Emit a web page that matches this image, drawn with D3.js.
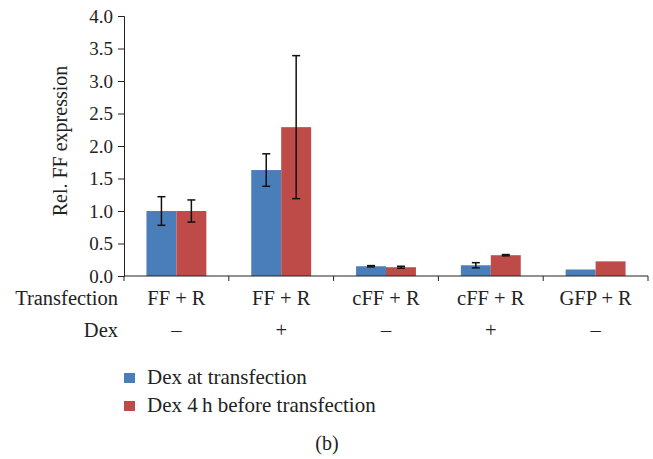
<!DOCTYPE html>
<html>
<head>
<meta charset="utf-8">
<script src="https://cdnjs.cloudflare.com/ajax/libs/d3/7.8.5/d3.min.js"></script>
<style>
  body { margin: 0; background: #fff; }
  text { font-family: "Liberation Serif", "DejaVu Serif", serif; fill: #222; }
</style>
</head>
<body>
<div id="chart"></div>
<script>
var transfection = ["FF + R", "FF + R", "cFF + R", "cFF + R", "GFP + R"]
var dex = ["\u2013", "+", "\u2013", "+", "\u2013"]
var seriesNames = ["Dex at transfection", "Dex 4\u2009h before transfection"]
var atTransfection = [1.0, 1.63, 0.15, 0.165, 0.10]
var atTransfectionErr = [0.22, 0.25, 0.01, 0.04, 0]
var before4h = [1.0, 2.29, 0.135, 0.32, 0.225]
var before4hErr = [0.17, 1.1, 0.015, 0.01, 0]
var yTicks = [0, 0.5, 1.0, 1.5, 2.0, 2.5, 3.0, 3.5, 4.0]
var colors = ["#4a7ebb", "#be4b48"]

var width = 653
var height = 459

var svg = d3.select("#chart")
            .append("svg")
            .attr("width", width)
            .attr("height", height)

var groups = d3.range(transfection.length)

var x0 = d3.scaleBand().domain(groups).range([124, 648])
var x1 = d3.scaleBand().domain([0, 1]).range([0, x0.bandwidth()]).paddingOuter(0.75)
var y = d3.scaleLinear().domain([0, 4]).range([276, 16])

// y axis
var yAxis = svg.append("g")
    .attr("transform", "translate(124,0)")
    .call(d3.axisLeft(y).tickValues(yTicks).tickFormat(d3.format(".1f")).tickSize(6).tickPadding(5))
yAxis.attr("font-family", null)
yAxis.select(".domain").attr("stroke", "#222")
yAxis.selectAll(".tick line").attr("stroke", "#222")
yAxis.selectAll("text")
    .style("font-family", "Liberation Serif")
    .style("font-size", "19px")
    .attr("fill", "#222")

svg.append("text")
    .attr("transform", "translate(67," + 141 + ") rotate(-90)")
    .attr("text-anchor", "middle")
    .style("font-size", "20px")
    .text("Rel. FF expression")

// bars
var rows = groups.map(function(i){
    return [
        {g: i, s: 0, v: atTransfection[i], e: atTransfectionErr[i]},
        {g: i, s: 1, v: before4h[i], e: before4hErr[i]}
    ]
})
var flat = [].concat.apply([], rows)

svg.selectAll("rect.bar")
    .data(flat)
    .enter()
    .append("rect")
    .attr("class", "bar")
    .attr("x", function(d){ return x0(d.g) + x1(d.s) })
    .attr("y", function(d){ return y(d.v) })
    .attr("width", x1.bandwidth())
    .attr("height", function(d){ return y(0) - y(d.v) })
    .attr("fill", function(d){ return colors[d.s] })

// error bars
var errs = svg.selectAll("g.err")
    .data(flat.filter(function(d){ return d.e > 0 }))
    .enter()
    .append("g")
    .attr("class", "err")
    .attr("stroke", "#111")
    .attr("stroke-width", 1.5)
errs.append("line")
    .attr("x1", function(d){ return x0(d.g) + x1(d.s) + x1.bandwidth() / 2 })
    .attr("x2", function(d){ return x0(d.g) + x1(d.s) + x1.bandwidth() / 2 })
    .attr("y1", function(d){ return y(d.v + d.e) })
    .attr("y2", function(d){ return y(d.v - d.e) })
errs.selectAll("line.cap")
    .data(function(d){ return [d.v + d.e, d.v - d.e].map(function(v){ return {d: d, v: v} }) })
    .enter()
    .append("line")
    .attr("class", "cap")
    .attr("x1", function(c){ return x0(c.d.g) + x1(c.d.s) + x1.bandwidth() / 2 - 4 })
    .attr("x2", function(c){ return x0(c.d.g) + x1(c.d.s) + x1.bandwidth() / 2 + 4 })
    .attr("y1", function(c){ return y(c.v) })
    .attr("y2", function(c){ return y(c.v) })

// x axis line with boundary ticks
svg.append("line")
    .attr("x1", 124).attr("x2", 648)
    .attr("y1", y(0)).attr("y2", y(0))
    .attr("stroke", "#222")
svg.selectAll("line.xtick")
    .data(d3.range(transfection.length + 1))
    .enter()
    .append("line")
    .attr("class", "xtick")
    .attr("x1", function(i){ return i < transfection.length ? x0(i) : x0.range()[1] })
    .attr("x2", function(i){ return i < transfection.length ? x0(i) : x0.range()[1] })
    .attr("y1", y(0)).attr("y2", y(0) + 5)
    .attr("stroke", "#222")

// category table
svg.selectAll("text.trans")
    .data(transfection)
    .enter()
    .append("text")
    .attr("class", "trans")
    .attr("x", function(d, i){ return x0(i) + x0.bandwidth() / 2 })
    .attr("y", 305)
    .attr("text-anchor", "middle")
    .style("font-size", "20.5px")
    .text(function(d){ return d })
svg.selectAll("text.dex")
    .data(dex)
    .enter()
    .append("text")
    .attr("class", "dex")
    .attr("x", function(d, i){ return x0(i) + x0.bandwidth() / 2 })
    .attr("y", 337)
    .attr("text-anchor", "middle")
    .style("font-size", "20.5px")
    .text(function(d){ return d })
svg.append("text").attr("x", 118).attr("y", 305).attr("text-anchor", "end")
    .style("font-size", "20.5px").text("Transfection")
svg.append("text").attr("x", 118).attr("y", 337).attr("text-anchor", "end")
    .style("font-size", "20.5px").text("Dex")

// legend
var legend = svg.selectAll("g.legend")
    .data(seriesNames)
    .enter()
    .append("g")
    .attr("class", "legend")
    .attr("transform", function(d, i){ return "translate(124," + (373 + i * 28) + ")" })
legend.append("rect")
    .attr("width", 11).attr("height", 10)
    .attr("fill", function(d, i){ return colors[i] })
legend.append("text")
    .attr("x", 23).attr("y", 11)
    .style("font-size", "21px")
    .text(function(d){ return d })

svg.append("text")
    .attr("x", 327).attr("y", 450)
    .attr("text-anchor", "middle")
    .style("font-size", "20px")
    .text("(b)")
</script>
</body>
</html>
